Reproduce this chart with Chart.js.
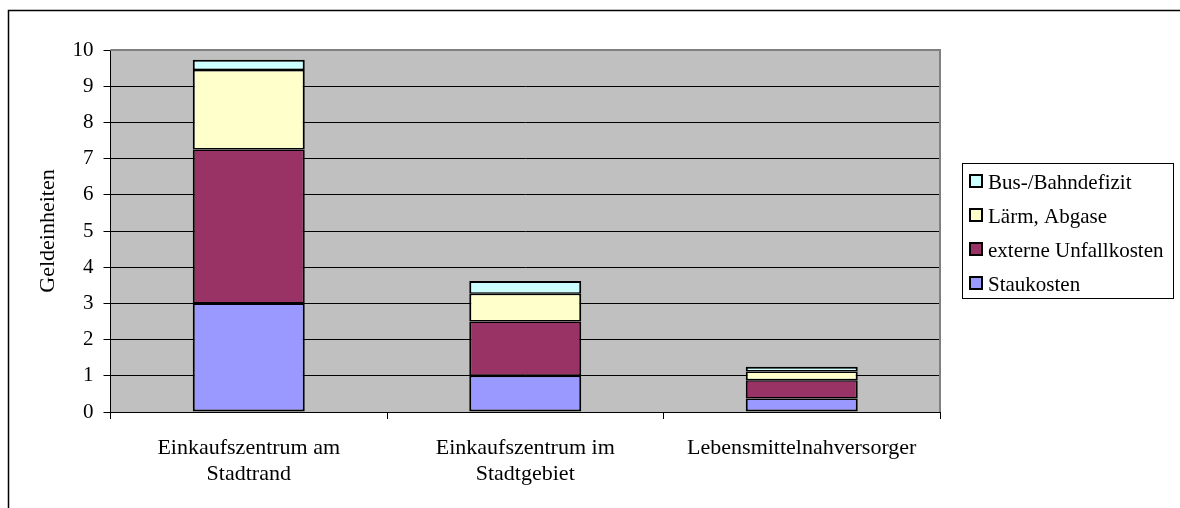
<!DOCTYPE html>
<html>
<head>
<meta charset="utf-8">
<script src="https://cdn.jsdelivr.net/npm/chart.js@4/dist/chart.umd.min.js"></script>
<style>
  html, body { margin: 0; padding: 0; background: #fff; }
  #wrap { width: 1180px; height: 508px; position: relative; }
</style>
</head>
<body>
<div id="wrap"><canvas id="c" width="1180" height="508"></canvas></div>
<script>
// Categories (multi-line labels) and stacked cost components
const categories = [
  ['Einkaufszentrum am', 'Stadtrand'],
  ['Einkaufszentrum im', 'Stadtgebiet'],
  'Lebensmittelnahversorger'
];
const seriesNames = ['Staukosten', 'externe Unfallkosten', 'Lärm, Abgase', 'Bus-/Bahndefizit'];
const staukosten     = [3.0, 1.0, 0.37];
const unfallkosten   = [4.25, 1.5, 0.51];
const laermAbgase    = [2.2, 0.77, 0.24];
const busBahnDefizit = [0.28, 0.35, 0.13];
const yTickValues = [0, 1, 2, 3, 4, 5, 6, 7, 8, 9, 10];

const seriesColors = ['#9999FF', '#993366', '#FFFFCC', '#CCFFFF'];
const seriesValues = [staukosten, unfallkosten, laermAbgase, busBahnDefizit];

const FONT = 'Liberation Serif, Times New Roman, serif';

const datasets = seriesValues.map((vals, i) => ({
  label: seriesNames[i],
  data: vals,
  backgroundColor: seriesColors[i],
  borderColor: '#000',
  borderSkipped: false,
  borderWidth: {
    left: 2, right: 2,
    top: i === seriesValues.length - 1 ? 2 : 1.5,
    bottom: i === 0 ? 2 : 1.5
  },
  barPercentage: 0.405,
  categoryPercentage: 1.0
}));

// Frame, plot background and custom legend box
const decor = {
  id: 'decor',
  beforeDraw(chart) {
    const { ctx, chartArea: a } = chart;
    ctx.save();
    ctx.fillStyle = '#fff';
    ctx.fillRect(0, 0, chart.width, chart.height);
    ctx.strokeStyle = '#000';
    ctx.lineWidth = 1.5;
    ctx.strokeRect(8.5, 10.5, 1300, 700);
    ctx.fillStyle = '#C0C0C0';
    ctx.fillRect(a.left, a.top, a.right - a.left, a.bottom - a.top);
    ctx.restore();
  },
  beforeDatasetsDraw(chart) {
    const { ctx, chartArea: a } = chart;
    ctx.save();
    ctx.strokeStyle = '#808080';
    ctx.lineWidth = 2;
    ctx.beginPath();
    ctx.moveTo(a.left, a.top);
    ctx.lineTo(a.right, a.top);
    ctx.lineTo(a.right, a.bottom);
    ctx.stroke();
    ctx.restore();
  },
  afterDraw(chart) {
    const { ctx } = chart;
    const box = { x: 962, y: 163, w: 211, h: 135 };
    ctx.save();
    ctx.fillStyle = '#fff';
    ctx.fillRect(box.x, box.y, box.w, box.h);
    ctx.strokeStyle = '#000';
    ctx.lineWidth = 1;
    ctx.strokeRect(box.x + 0.5, box.y + 0.5, box.w, box.h);
    const ds = chart.data.datasets.slice().reverse();
    ctx.font = '21px ' + FONT;
    ctx.textBaseline = 'middle';
    ds.forEach((d, i) => {
      const cy = 181 + i * 34;
      ctx.fillStyle = d.backgroundColor;
      ctx.fillRect(970, cy - 6, 12, 12);
      ctx.strokeStyle = '#000';
      ctx.lineWidth = 2;
      ctx.strokeRect(970, cy - 6, 12, 12);
      ctx.fillStyle = '#000';
      ctx.fillText(d.label, 988, cy + 2);
    });
    ctx.restore();
  }
};

new Chart(document.getElementById('c'), {
  type: 'bar',
  data: { labels: categories, datasets },
  options: {
    responsive: false,
    animation: false,
    events: [],
    layout: { padding: { left: 0, top: 50, right: 240, bottom: 0 } },
    plugins: { legend: { display: false }, tooltip: { enabled: false } },
    scales: {
      x: {
        stacked: true,
        grid: { drawOnChartArea: false, color: '#000', tickLength: 7, offset: true },
        border: { color: '#000', width: 1 },
        ticks: {
          color: '#000',
          font: { family: FONT, size: 22, lineHeight: 1.2 },
          padding: 16,
          maxRotation: 0,
          autoSkip: false
        },
        afterFit(s) { s.height = 96; }
      },
      y: {
        stacked: true,
        min: 0,
        max: 10,
        afterBuildTicks(s) { s.ticks = yTickValues.map(v => ({ value: v })); },
        grid: { color: '#000', tickLength: 7, lineWidth: 1 },
        border: { color: '#000', width: 1 },
        ticks: {
          color: '#000',
          font: { family: FONT, size: 21 },
          padding: 10
        },
        title: {
          display: true,
          text: 'Geldeinheiten',
          color: '#000',
          font: { family: FONT, size: 22 },
          padding: { top: 35, bottom: 0 }
        },
        afterFit(s) { s.width = 110.5; }
      }
    }
  },
  plugins: [decor]
});
</script>
</body>
</html>
